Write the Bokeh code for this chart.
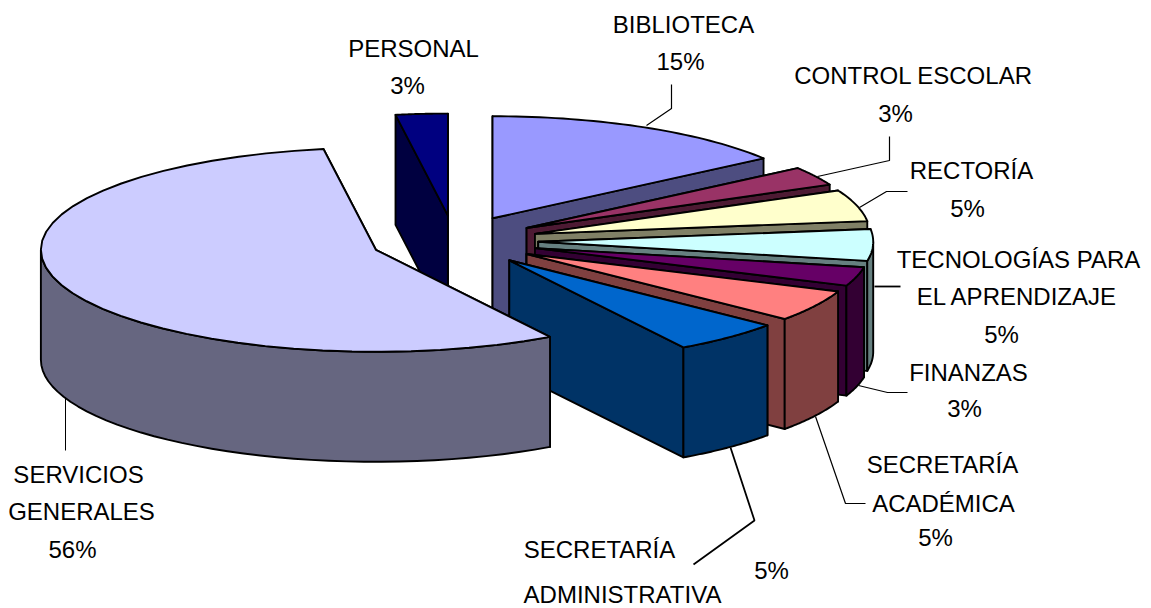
import math
from bokeh.plotting import figure
from bokeh.embed import file_html
from bokeh.resources import INLINE
from bokeh.core.properties import value

# ---- data ----
categories = ["BIBLIOTECA", "CONTROL ESCOLAR", "RECTORÍA", "TECNOLOGÍAS PARA EL APRENDIZAJE",
              "FINANZAS", "SECRETARÍA ACADÉMICA", "SECRETARÍA ADMINISTRATIVA",
              "SERVICIOS GENERALES", "PERSONAL"]
values = [15, 3, 5, 5, 3, 5, 5.3, 56.2, 2.5]
top_colors = ["#9999FF", "#993366", "#FFFFCC", "#CCFFFF", "#660066", "#FF8080", "#0066CC", "#CCCCFF", "#000080"]
side_colors = ["#4D4D80", "#4D1A33", "#808066", "#668080", "#330033", "#804040", "#003366", "#666680", "#000040"]

label_texts = ["BIBLIOTECA", "15%", "CONTROL ESCOLAR", "3%", "RECTORÍA", "5%",
               "TECNOLOGÍAS PARA", "EL APRENDIZAJE", "5%", "FINANZAS", "3%",
               "SECRETARÍA", "ACADÉMICA", "5%", "SECRETARÍA", "ADMINISTRATIVA", "5%",
               "SERVICIOS", "GENERALES", "56%", "PERSONAL", "3%"]
label_x = [683, 680, 913, 895, 971, 967, 1018, 1017, 1001, 968, 964,
           942, 943, 935, 599, 622, 771, 78, 81, 72, 413, 407]
label_y = [24, 61, 75, 113, 170, 208, 259, 296, 334, 372, 408,
           464, 503, 537, 549, 594, 570, 474, 511, 549, 48, 85]

leaders = [
    ([646, 671, 671], [125, 108, 84], 1.2),
    ([817, 889, 889], [176, 160, 136], 1.2),
    ([859, 886, 907], [207, 191, 191], 1.2),
    ([874, 900], [286, 286], 1.8),
    ([858, 887, 907], [385, 392, 392], 1.2),
    ([815, 845, 865], [416, 503, 503], 1.2),
    ([730, 754, 693], [447, 520, 564], 1.8),
    ([65, 65], [398, 450], 1.0),
]

# ---- pie geometry ----
CX, CY = 454.0, 240.5      # pie centre on the page
RX, RY = 335.0, 102.0      # ellipse of the tilted disc
DEPTH = 110.0              # thickness
EXPLODE = 0.25

W, H = 1151, 608
p = figure(width=W, height=H, x_range=(0, W), y_range=(H, 0),
           toolbar_location=None, output_backend="svg", min_border=0)
p.axis.visible = False
p.grid.visible = False
p.outline_line_color = None
p.background_fill_color = "#FFFFFF"
p.border_fill_color = "#FFFFFF"


def pt(ax, ay, deg):
    a = math.radians(deg)
    return ax + RX * math.sin(a), ay - RY * math.cos(a)


def arc(ax, ay, a0, a1, n=40):
    return [pt(ax, ay, a0 + (a1 - a0) * i / n) for i in range(n + 1)]


def poly(points, color, width=1.9):
    p.patch([q[0] for q in points], [q[1] for q in points], fill_color=color,
            line_color="#000000", line_width=width, line_join="round")


total = sum(values)
angle = 0.0
slices = []
for v, tc, sc in zip(values, top_colors, side_colors):
    span = v / total * 360
    slices.append((angle, angle + span, tc, sc))
    angle += span

# back-to-front: clockwise from the top, PERSONAL before SERVICIOS GENERALES
order = [0, 1, 2, 3, 4, 5, 6, 8, 7]
for i in order:
    a0, a1, tc, sc = slices[i]
    mid = math.radians((a0 + a1) / 2)
    ax = CX + EXPLODE * RX * math.sin(mid)
    ay = CY - EXPLODE * RY * math.cos(mid)
    for a in (a0, a1):
        q = pt(ax, ay, a)
        poly([(ax, ay), q, (q[0], q[1] + DEPTH), (ax, ay + DEPTH)], sc)
    f0, f1 = max(a0, 90), min(a1, 270)
    if f1 > f0:
        rim = arc(ax, ay, f0, f1)
        poly(rim + [(x, y + DEPTH) for x, y in reversed(rim)], sc)
    poly([(ax, ay)] + arc(ax, ay, a0, a1), tc)

for xs, ys, w in leaders:
    p.line(xs, ys, line_color="#000000", line_width=w)

p.text(label_x, label_y, text=label_texts, text_font=value("Liberation Sans"),
       text_font_size="24px", text_color="#000000", text_align="center",
       text_baseline="middle")

open("out.html", "w").write(file_html(p, INLINE))
